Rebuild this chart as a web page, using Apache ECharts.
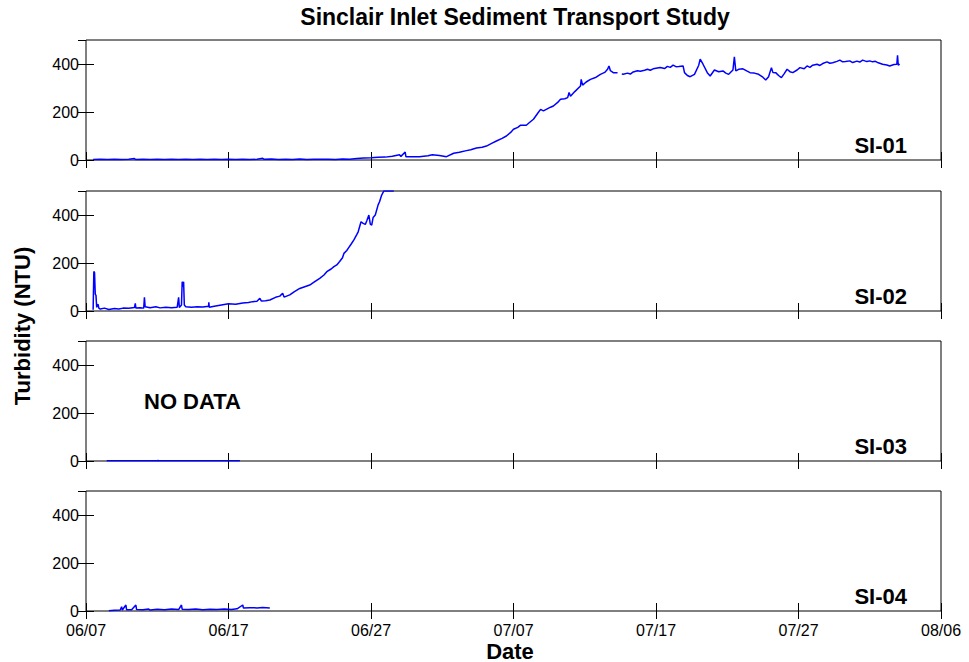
<!DOCTYPE html>
<html>
<head>
<meta charset="utf-8">
<title>Sinclair Inlet Sediment Transport Study</title>
<script src="https://cdn.jsdelivr.net/npm/echarts@6/dist/echarts.min.js"></script>
<style>
  html, body { margin: 0; padding: 0; background: #fff; }
  #chart { width: 969px; height: 662px; }
</style>
</head>
<body>
<div id="chart"></div>
<script>
// Turbidity records, [days since 06/07 00:00, NTU]
const si01 = [
  [0.5,2],[1,3],[1.5,2],[2,3],[2.5,2],[3,3],[3.4,6],[3.5,2],[4,3],[4.5,2],[5,3],[5.5,2],[6,3],[6.5,2],
  [7,3],[7.5,2],[8,3],[8.5,2],[9,3],[9.5,2],[10,3],[10.5,2],[11,3],[11.5,2],[12,3],[12.4,7],[12.5,3],
  [13,4],[13.5,2],[14,3],[14.5,2],[15,4],[15.5,2],[16,3],[16.5,3],[17,3],[17.5,2],[18,4],[18.5,3],
  [19,6],[19.5,8],[20,9],[20.5,11],[21,12],[21.5,16],[22,22],[22.1,15],[22.4,33],[22.45,14],[23,14],
  [23.4,14],[24,18],[24.3,22],[24.8,19],[25.3,14],[25.8,28],[26.2,32],[26.7,39],[27,43],[27.4,50],
  [27.8,53],[28.1,58],[28.5,70],[28.8,79],[29.2,90],[29.5,100],[29.8,115],[30,128],[30.3,136],
  [30.5,145],[30.9,145],[31.1,155],[31.4,170],[31.7,195],[31.9,211],[32.1,205],[32.3,211],[32.6,220],
  [32.8,225],[33.1,240],[33.3,253],[33.6,255],[33.8,260],[33.9,281],[34.0,266],[34.3,285],[34.7,308],
  [34.75,336],[34.85,312],[35.1,325],[35.4,336],[35.8,345],[36.1,357],[36.4,365],[36.6,378],[36.7,392],
  [36.8,372],[37,364],[37.3,364],[37.4,null],[37.6,358],[37.7,357],[38,362],[38.2,358],[38.4,367],
  [38.7,372],[38.9,370],[39.2,374],[39.4,378],[39.6,374],[39.8,380],[40.1,383],[40.3,385],[40.6,381],
  [40.8,390],[41.0,386],[41.2,395],[41.4,389],[41.6,390],[41.9,392],[42.0,364],[42.2,352],[42.4,347],
  [42.7,357],[43.0,395],[43.1,420],[43.3,399],[43.6,364],[43.8,350],[44.1,375],[44.4,368],[44.7,371],
  [44.9,362],[45.1,357],[45.4,375],[45.5,430],[45.6,371],[45.8,378],[46.1,380],[46.4,370],[46.6,364],
  [46.9,362],[47.2,357],[47.5,345],[47.7,333],[47.9,347],[48.1,385],[48.2,365],[48.4,364],[48.6,352],
  [48.8,343],[49.0,360],[49.2,378],[49.4,368],[49.6,364],[49.9,375],[50.1,385],[50.4,380],[50.6,392],
  [50.8,386],[51.0,395],[51.3,399],[51.5,394],[51.7,402],[52.0,409],[52.2,403],[52.4,405],[52.7,411],
  [52.9,416],[53.1,409],[53.3,410],[53.6,413],[53.8,406],[54.1,412],[54.3,408],[54.5,416],[54.8,410],
  [55.0,413],[55.2,409],[55.4,411],[55.6,405],[55.9,399],[56.2,396],[56.4,392],[56.7,398],[56.9,399],
  [56.95,436],[57.0,395],[57.1,399]
];
const si02 = [
  [0.5,5],[0.55,165],[0.6,160],[0.65,70],[0.7,65],[0.75,15],[0.8,25],[0.85,28],[0.9,12],[1.0,8],
  [1.3,12],[1.6,6],[2.0,10],[2.3,8],[2.6,12],[3.0,11],[3.4,15],[3.46,32],[3.5,12],[3.8,14],[4.05,12],
  [4.1,57],[4.15,18],[4.5,14],[4.9,18],[5.2,13],[5.6,16],[6.0,14],[6.4,16],[6.5,57],[6.55,15],[6.7,25],
  [6.75,122],[6.8,100],[6.85,122],[6.9,25],[7.0,18],[7.4,16],[7.8,18],[8.2,17],[8.6,20],[8.62,36],
  [8.65,16],[9.0,20],[9.5,25],[10.0,30],[10.5,28],[11.0,33],[11.4,35],[11.7,39],[12.0,41],[12.2,53],
  [12.3,42],[12.6,43],[12.9,46],[13.3,57],[13.6,62],[13.8,74],[13.9,58],[14.3,67],[14.6,80],[15,94],
  [15.3,100],[15.7,108],[16.0,120],[16.4,136],[16.7,150],[16.9,164],[17.2,175],[17.4,185],[17.6,192],
  [17.8,206],[18.0,222],[18.1,240],[18.3,252],[18.4,261],[18.6,278],[18.8,296],[19.0,318],[19.1,330],
  [19.3,372],[19.45,365],[19.6,361],[19.7,375],[19.85,400],[19.95,362],[20.05,358],[20.15,390],
  [20.3,400],[20.5,442],[20.6,455],[20.75,483],[20.9,500],[21.2,500],[21.6,500]
];
const si03 = [
  [1.45,1],[3,1],[5.0,1],[5.05,3],[5.1,1],[7,1],[9,1],[10.8,1]
];
const si04 = [
  [1.6,1],[2.0,3],[2.4,4],[2.5,18],[2.55,4],[2.8,25],[2.85,5],[3.2,5],[3.5,25],[3.55,6],[4.0,5],
  [4.4,8],[4.5,4],[5.0,7],[5.5,5],[6.0,8],[6.5,6],[6.7,25],[6.75,7],[7.2,6],[7.7,8],[8.2,5],[8.7,7],
  [9.2,6],[9.7,8],[10.2,6],[10.6,9],[11.0,25],[11.05,12],[11.5,14],[12.0,13],[12.4,15],[12.9,13]
];

const stations = ['SI-01', 'SI-02', 'SI-03', 'SI-04'];
const stationData = [si01, si02, si03, si04];
const xTickLabels = ['06/07', '06/17', '06/27', '07/07', '07/17', '07/27', '08/06'];
const yTicks = [0, 200, 400];

const FONT = '"Liberation Sans", Arial, Helvetica, sans-serif';
const panelTops = [40, 191, 341, 491];
const panelH = 120;
const plotLeft = 86, plotRight = 28;

const grids = [], xAxes = [], yAxes = [], series = [];
stations.forEach((name, i) => {
  grids.push({
    left: plotLeft, right: plotRight, top: panelTops[i], height: panelH,
    show: true, borderColor: '#000', borderWidth: 1, backgroundColor: '#fff'
  });
  const isBottom = i === stations.length - 1;
  const xBase = {
    type: 'value', gridIndex: i, min: 0, max: 60, interval: 10,
    axisLine: { show: false },
    axisTick: { show: true, inside: true, length: 8, lineStyle: { color: '#000', width: 1 } },
    splitLine: { show: false }
  };
  xAxes.push(Object.assign({}, xBase, {
    position: 'bottom',
    axisLabel: {
      show: isBottom, margin: 12, color: '#000', fontFamily: FONT, fontSize: 16, lineHeight: 14,
      formatter: v => xTickLabels[Math.round(v / 10)] || ''
    }
  }));
  xAxes.push(Object.assign({}, xBase, { position: 'top', axisLabel: { show: false } }));

  const yBase = {
    type: 'value', gridIndex: i, min: 0, max: 500, interval: 200,
    axisLine: { show: false },
    axisTick: { show: true, inside: true, length: 8, lineStyle: { color: '#000', width: 1 } },
    splitLine: { show: false }
  };
  yAxes.push(Object.assign({}, yBase, {
    position: 'left',
    axisLabel: {
      show: true, margin: 7, color: '#000', fontFamily: FONT, fontSize: 16, lineHeight: 14,
      showMaxLabel: false,
      formatter: v => (yTicks.indexOf(v) >= 0 ? String(v) : '')
    }
  }));
  yAxes.push(Object.assign({}, yBase, { position: 'right', axisLabel: { show: false } }));

  series.push({
    name: name, type: 'line',
    xAxisIndex: i * 2, yAxisIndex: i * 2,
    data: stationData[i],
    showSymbol: false, symbol: 'none', clip: true, connectNulls: false,
    lineStyle: { color: '#0000ff', width: 1.5 },
    animation: false
  });
});

const boldText = (text, x, y, align, size, extra) => Object.assign({
  type: 'text', x: x, y: y, silent: true,
  style: {
    text: text, fill: '#000', font: 'bold ' + size + 'px ' + FONT,
    textAlign: align, textVerticalAlign: 'middle'
  }
}, extra || {});

const graphics = [
  boldText('Sinclair Inlet Sediment Transport Study', 515, 17, 'center', 23),
  boldText('Date', 510, 651, 'center', 22),
  boldText('Turbidity (NTU)', 22, 326, 'center', 22, { rotation: Math.PI / 2 }),
  boldText('NO DATA', 144, 401, 'left', 22)
];
stations.forEach((name, i) => {
  graphics.push(boldText(name, 907, panelTops[i] + panelH - 14.5, 'right', 22));
});

const chart = echarts.init(document.getElementById('chart'), null, { renderer: 'svg' });
chart.setOption({
  backgroundColor: '#fff',
  animation: false,
  grid: grids,
  xAxis: xAxes,
  yAxis: yAxes,
  series: series,
  graphic: graphics
});
</script>
</body>
</html>
